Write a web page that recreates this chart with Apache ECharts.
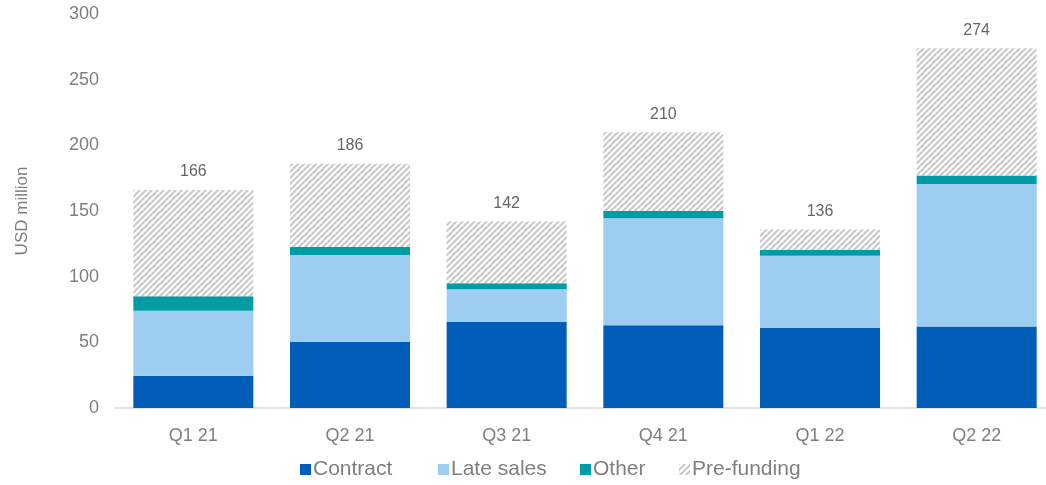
<!DOCTYPE html>
<html>
<head>
<meta charset="utf-8">
<script src="https://cdn.jsdelivr.net/npm/echarts@6/dist/echarts.min.js"></script>
<style>
html,body{margin:0;padding:0;background:#fff;overflow:hidden;}
#chart{width:1058px;height:485px;}
</style>
</head>
<body>
<div id="chart"></div>
<script>
const categories = ['Q1 21', 'Q2 21', 'Q3 21', 'Q4 21', 'Q1 22', 'Q2 22'];
const contract   = [24.5, 50.5, 65.5, 63, 61, 62];
const lateSales  = [49.5, 66, 25, 81.5, 55, 108.5];
const other      = [11, 6, 4.5, 5.5, 4.5, 6.5];
const preFunding = [81, 63.5, 47, 60, 15.5, 97];
const totals     = [166, 186, 142, 210, 136, 274];
const yTicks     = [0, 50, 100, 150, 200, 250, 300];
const seriesNames = ['Contract', 'Late sales', 'Other', 'Pre-funding'];

function hatch() {
  const s = 6;
  const c = document.createElement('canvas');
  c.width = s; c.height = s;
  const g = c.getContext('2d');
  g.fillStyle = '#ffffff';
  g.fillRect(0, 0, s, s);
  g.strokeStyle = '#c9c9c9';
  g.lineWidth = 2.1;
  g.beginPath();
  g.moveTo(-1, s + 1); g.lineTo(s + 1, -1);
  g.moveTo(-1 - s, s + 1); g.lineTo(1, -1);
  g.moveTo(s - 1, s + 1); g.lineTo(2 * s + 1, -1);
  g.stroke();
  return c;
}

const chart = echarts.init(document.getElementById('chart'));
const textColor = '#7f7f7f';
const legendLefts = [300, 438, 580, 679];
chart.setOption({
  animation: false,
  textStyle: { fontFamily: 'Liberation Sans, Arial, sans-serif' },
  grid: { left: 115, right: 3, top: 14, bottom: 77, containLabel: false },
  legend: seriesNames.map((n, i) => ({
    left: legendLefts[i], top: 459, padding: 0,
    itemWidth: 11, itemHeight: 11,
    icon: 'rect',
    textStyle: { fontSize: 21, color: textColor, padding: [0, 0, 0, -3] },
    data: [n]
  })),
  xAxis: {
    type: 'category', data: categories,
    axisLine: { lineStyle: { color: '#d9d9d9', width: 1.5 } },
    axisTick: { show: false },
    axisLabel: { fontSize: 18, color: textColor, margin: 19 }
  },
  yAxis: {
    type: 'value', min: yTicks[0], max: yTicks[yTicks.length - 1], interval: 50,
    name: 'USD million', nameLocation: 'middle', nameGap: 84,
    nameTextStyle: { fontSize: 17, color: textColor },
    splitLine: { show: false },
    axisLine: { show: false }, axisTick: { show: false },
    axisLabel: { fontSize: 18, color: textColor, margin: 16 }
  },
  series: [
    { name: 'Contract', type: 'bar', stack: 't', barWidth: 120, data: contract,
      itemStyle: { color: '#005eb8' } },
    { name: 'Late sales', type: 'bar', stack: 't', data: lateSales,
      itemStyle: { color: '#9dcef2' } },
    { name: 'Other', type: 'bar', stack: 't', data: other,
      itemStyle: { color: '#009ca6' } },
    { name: 'Pre-funding', type: 'bar', stack: 't', data: preFunding,
      itemStyle: { color: { image: hatch(), repeat: 'repeat' } },
      label: { show: true, position: 'top', distance: 10, fontSize: 16, color: '#666666',
        formatter: p => String(totals[p.dataIndex]) } }
  ]
});
</script>
</body>
</html>
